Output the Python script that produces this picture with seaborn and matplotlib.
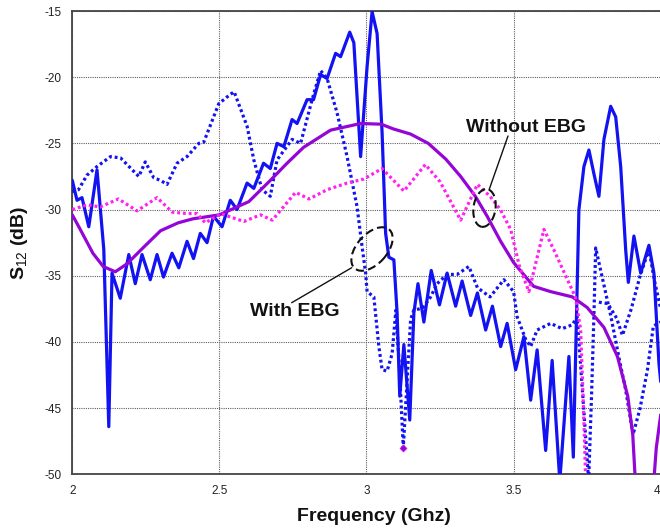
import numpy as np
import pandas as pd
import matplotlib
matplotlib.use("Agg")
import matplotlib.pyplot as plt
import seaborn as sns
from matplotlib.patches import Ellipse
from matplotlib.transforms import IdentityTransform
from matplotlib.lines import Line2D

# ---------------- data ----------------
solid_blue_f = [2.0, 2.016, 2.033, 2.056, 2.084, 2.107, 2.124, 2.135, 2.163, 2.192, 2.214, 2.237, 2.265,
                2.288, 2.31, 2.339, 2.362, 2.39, 2.412, 2.435, 2.458, 2.48, 2.509, 2.537, 2.56, 2.594,
                2.617, 2.65, 2.673, 2.696, 2.719, 2.747, 2.764, 2.798, 2.82, 2.844, 2.866, 2.895, 2.912,
                2.943, 2.957, 2.98, 3.002, 3.019, 3.036, 3.053, 3.065, 3.076, 3.093, 3.104, 3.113,
                3.127, 3.147, 3.161, 3.175, 3.195, 3.22, 3.248, 3.274, 3.303, 3.325, 3.354, 3.377,
                3.405, 3.428, 3.456, 3.478, 3.507, 3.535, 3.558, 3.58, 3.609, 3.631, 3.657, 3.688,
                3.703, 3.722, 3.739, 3.756, 3.773, 3.79, 3.807, 3.83, 3.847, 3.864, 3.881, 3.89,
                3.909, 3.932, 3.96, 3.977, 3.994, 4.0]
solid_blue_v = [-27.8, -29.3, -29.1, -31.3, -27.0, -33.0, -46.4, -34.8, -36.7, -33.4, -35.6, -33.4, -35.3,
                -33.4, -35.1, -33.3, -34.4, -32.4, -33.7, -31.8, -32.5, -30.5, -31.3, -29.3, -30.0, -28.0,
                -28.4, -26.5, -26.9, -25.0, -25.25, -23.2, -23.5, -21.7, -21.7, -19.8, -20.1, -18.2, -18.45,
                -16.6, -17.4, -26.0, -19.2, -15.05, -16.7, -24.2, -31.8, -33.6, -33.8, -37.8, -44.1,
                -40.2, -45.9, -37.8, -35.6, -38.5, -34.6, -37.2, -34.8, -37.3, -35.4, -38.0, -36.3,
                -39.1, -37.3, -40.35, -38.6, -42.1, -39.6, -44.4, -40.6, -48.2, -41.4, -50.5, -41.1,
                -48.7, -30.0, -26.75, -25.5, -27.3, -29.0, -24.7, -22.2, -23.0, -26.75, -33.05, -35.5,
                -32.0, -34.8, -32.7, -34.8, -41.6, -43.0]

dotted_blue_f = [2.0, 2.021, 2.05, 2.084, 2.13, 2.164, 2.226, 2.248, 2.277, 2.30, 2.322, 2.356, 2.39,
                 2.43, 2.447, 2.498, 2.537, 2.55, 2.594, 2.617, 2.645, 2.673, 2.696, 2.747, 2.776,
                 2.815, 2.844, 2.866, 2.90, 2.934, 2.968, 2.985, 2.997, 3.002, 3.025, 3.042, 3.053,
                 3.07, 3.087, 3.10, 3.112, 3.125, 3.15, 3.161, 3.19, 3.218, 3.24, 3.274, 3.308,
                 3.348, 3.377, 3.42, 3.467, 3.50, 3.512, 3.541, 3.558, 3.58, 3.626, 3.665, 3.70,
                 3.716, 3.735, 3.755, 3.765, 3.773, 3.779, 3.80, 3.83, 3.86, 3.88, 3.906, 3.93,
                 3.955, 3.975, 4.0]
dotted_blue_v = [-28.65, -28.5, -27.4, -26.75, -26.0, -26.1, -27.5, -26.4, -27.6, -27.8, -28.1, -26.5, -26.0,
                 -25.0, -24.9, -22.0, -21.3, -21.1, -23.7, -26.25, -28.5, -29.0, -26.25, -24.7, -25.0,
                 -21.7, -19.5, -20.1, -22.7, -26.0, -29.8, -32.8, -34.8, -36.2, -36.6, -40.35, -42.1,
                 -42.2, -40.9, -37.6, -42.0, -48.0, -38.3, -37.6, -37.45, -36.6, -35.6, -34.9, -34.9,
                 -34.3, -35.9, -36.6, -35.3, -36.2, -38.1, -39.8, -40.35, -39.1, -38.6, -39.0, -38.7,
                 -38.1, -44.0, -50.5, -44.0, -38.0, -32.9, -35.0, -38.0, -41.4, -43.5, -47.0, -45.0,
                 -42.1, -38.8, -38.5]

dotted_blue2_f = [3.79, 3.82, 3.85, 3.87, 3.90, 3.93, 3.96, 3.98, 4.0]
dotted_blue2_v = [-37.0, -37.1, -38.2, -39.5, -37.5, -35.0, -33.0, -35.5, -37.5]

purple_f = [2.0, 2.027, 2.07, 2.105, 2.146, 2.186, 2.24, 2.30, 2.36, 2.41, 2.5, 2.6, 2.673, 2.73,
            2.786, 2.878, 2.98, 3.05, 3.09, 3.15, 3.21, 3.27, 3.32, 3.37, 3.41, 3.456, 3.5, 3.568,
            3.626, 3.70, 3.75, 3.807, 3.853, 3.888, 3.905, 3.915, 3.975, 3.985, 4.0]
purple_v = [-30.4, -31.5, -33.3, -34.3, -34.7, -34.1, -32.9, -31.6, -31.0, -30.7, -30.4, -29.4, -27.8, -26.5,
            -25.3, -24.0, -23.5, -23.55, -23.9, -24.3, -25.0, -26.2, -27.5, -29.0, -30.5, -32.4, -34.0, -35.8,
            -36.2, -36.6, -37.4, -38.9, -41.1, -44.1, -47.0, -51.0, -51.0, -48.0, -45.5]

magenta_f = [2.0, 2.05, 2.095, 2.157, 2.22, 2.288, 2.34, 2.39, 2.424, 2.452, 2.492, 2.503, 2.583, 2.64,
             2.68, 2.759, 2.805, 2.866, 2.934, 2.99, 3.053, 3.127, 3.20, 3.25, 3.32, 3.377, 3.42,
             3.455, 3.49, 3.52, 3.552, 3.603, 3.637, 3.683, 3.71, 3.728, 3.74, 3.745]
magenta_v = [-30.0, -29.65, -29.8, -29.2, -30.1, -29.1, -30.2, -30.3, -30.3, -31.0, -30.5, -30.3, -30.9, -30.4,
             -30.8, -28.7, -29.2, -28.5, -28.0, -27.7, -26.9, -28.6, -26.6, -27.9, -30.8, -28.1, -29.0,
             -30.0, -31.5, -34.3, -36.2, -31.5, -33.05, -35.3, -36.6, -39.1, -46.6, -50.5]

marker_f = [3.125]
marker_v = [-48.0]

x_ticks = [2, 2.5, 3, 3.5, 4]
y_ticks = [-50, -45, -40, -35, -30, -25, -20, -15]

# ---------------- style ----------------
sns.set_style("white")
plt.rcParams["font.family"] = ["Liberation Sans", "DejaVu Sans"]
plt.rcParams["mathtext.fontset"] = "custom"
plt.rcParams["mathtext.rm"] = "Liberation Sans"
plt.rcParams["mathtext.bf"] = "Liberation Sans:bold"

BLUE = "#1212f2"
PURPLE = "#9406d6"
MAGENTA = "#ff22f0"

fig = plt.figure(figsize=(6.6, 5.29), dpi=100)
ax = fig.add_axes([72.3 / 660, 1 - 474.3 / 529, 588.4 / 660, (474.3 - 11) / 529])

dot = (0, (0.9, 0.9))
sns.lineplot(x=dotted_blue_f, y=dotted_blue_v, ax=ax, color=BLUE, lw=2.3, linestyle=dot,
             sort=False, estimator=None, zorder=3)
sns.lineplot(x=dotted_blue2_f, y=dotted_blue2_v, ax=ax, color=BLUE, lw=2.3, linestyle=dot,
             sort=False, estimator=None, zorder=3)
sns.lineplot(x=solid_blue_f, y=solid_blue_v, ax=ax, color=BLUE, lw=2.3,
             sort=False, estimator=None, zorder=4)
sns.lineplot(x=purple_f, y=purple_v, ax=ax, color=PURPLE, lw=2.3,
             sort=False, estimator=None, zorder=5)
sns.lineplot(x=magenta_f, y=magenta_v, ax=ax, color=MAGENTA, lw=2.3, linestyle=dot,
             sort=False, estimator=None, zorder=6)
sns.scatterplot(x=marker_f, y=marker_v, ax=ax, color=PURPLE, s=14, marker="D",
                edgecolor=MAGENTA, zorder=7)

ax.set_xlim(2, 4)
ax.set_ylim(-50, -15)
ax.set_xticks(x_ticks)
ax.set_yticks(y_ticks)
ax.set_xticklabels([f"{t:g}" for t in x_ticks])
ax.set_yticklabels([f"{t:g}" for t in y_ticks])
ax.tick_params(axis="both", length=0, pad=8, labelsize=8.5, labelcolor="#222222")
# keep the last x tick label inside the picture
ax.get_xticklabels()[-1].set_horizontalalignment("right")
ax.grid(True, color="#606060", linestyle=(0, (1, 1)), linewidth=0.8, zorder=0)
ax.set_axisbelow(True)
for s in ax.spines.values():
    s.set_color("#444444")
    s.set_linewidth(1.3)
ax.set_xlabel("")
ax.set_ylabel("")

fig.text(374 / 660, 1 - 516.7 / 529, "Frequency (Ghz)", ha="center", va="center",
         fontsize=14, fontweight="bold", color="#111111")
fig.text(20 / 660, 1 - 243 / 529, r"S$_{\mathrm{12}}$ (dB)", ha="center", va="center",
         rotation=90, fontsize=14, fontweight="bold", color="#111111")

# annotations (pixel coordinates, y measured from top)
H = 529
def P(x, y):
    return (x, H - y)

fig.text(525.5 / 660, 1 - 127.7 / 529, "Without EBG", ha="center", va="center",
         fontsize=14, fontweight="bold", color="#111111")
fig.text(295 / 660, 1 - 311.7 / 529, "With EBG", ha="center", va="center",
         fontsize=14, fontweight="bold", color="#111111")

for (x0, y0), (x1, y1) in [((489, 190), (508, 136)), ((291.7, 302.7), (351.7, 267.7))]:
    a, b = P(x0, y0), P(x1, y1)
    fig.add_artist(Line2D([a[0], b[0]], [a[1], b[1]], transform=IdentityTransform(),
                          color="#111111", lw=1.0, zorder=10))

e1 = Ellipse(P(484.5, 208), width=22, height=38, angle=-8, transform=IdentityTransform(),
             fill=False, ls=(0, (4, 2)), lw=1.5, color="#111111", zorder=10)
e2 = Ellipse(P(372, 249), width=52, height=30, angle=48, transform=IdentityTransform(),
             fill=False, ls=(0, (4, 2)), lw=1.5, color="#111111", zorder=10)
fig.add_artist(e1)
fig.add_artist(e2)

fig.savefig("out.png", dpi=100)
